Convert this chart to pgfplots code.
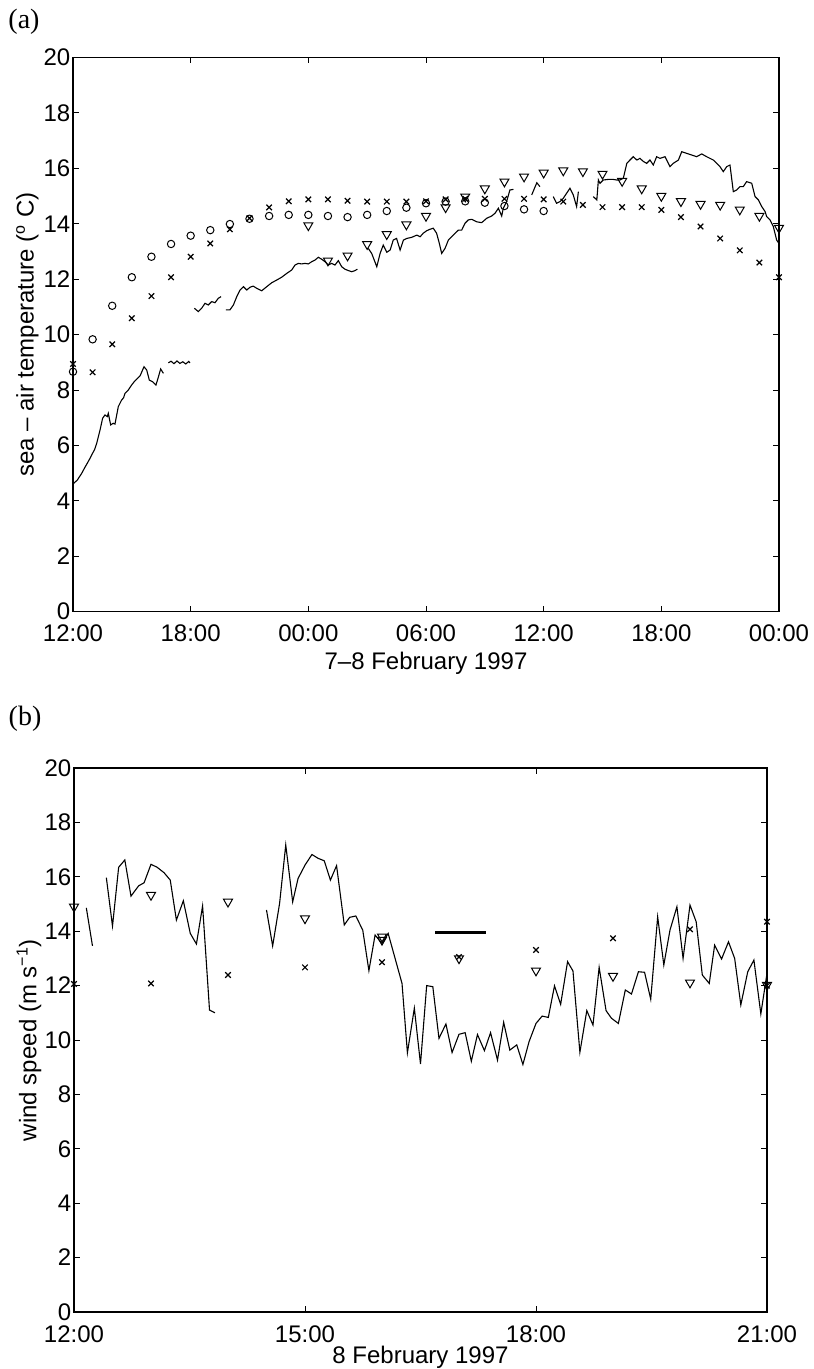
\documentclass[border=0pt]{standalone}
\usepackage{fontspec}
\setmainfont{Liberation Sans}
\newfontfamily\panelfont{Liberation Serif}
\usepackage{pgfplots}
\pgfplotsset{compat=1.18}

\pgfplotsset{
  matlabbox/.style={
    scale only axis,
    axis line style={line width=0.6pt},
    tick style={line width=0.5pt, black},
    major tick length=3pt,
    tick align=inside,
    xtick pos=both, ytick pos=both,
    ymin=0, ymax=20, ytick={0,2,...,20},
    font=\fontsize{12}{14}\selectfont,
    ticklabel style={font=\fontsize{12}{14}\selectfont},
    yticklabel style={inner sep=1.2pt},
    xticklabel style={inner sep=1.5pt, yshift=-5pt},
    /pgf/number format/assume math mode=true,
    clip=false,
    unbounded coords=jump,
  },
  obsline/.style={black, line width=0.55pt, mark=none},
  circ/.style={only marks, mark=o, mark size=1.85pt, mark options={black, line width=0.5pt}},
  cross/.style={only marks, mark=x, mark size=1.95pt, mark options={black, line width=0.6pt}},
  tri/.style={only marks, mark=triangle, mark size=2.6pt, mark options={black, line width=0.5pt, rotate=180}},
}

\begin{document}
\begin{tikzpicture}
\useasboundingbox (0,0) rectangle (406.5pt,-684.5pt);

\node[font=\panelfont\fontsize{14}{16}\selectfont, anchor=center] at (12pt,-10.8pt) {(a)};
\node[font=\panelfont\fontsize{14}{16}\selectfont, anchor=center] at (12.5pt,-359.5pt) {(b)};

% ---------------- (a) sea - air temperature ----------------
\begin{axis}[matlabbox,
  at={(36.5pt,-305.85pt)}, anchor=south west,
  width=353pt, height=277.1pt,
  xmin=0, xmax=36,
  xtick={0,6,...,36},
  xticklabels={12:00,18:00,00:00,06:00,12:00,18:00,00:00},
  xlabel={7–8 February 1997},
  xlabel style={at={(axis description cs:0.5,0)}, anchor=center, yshift=-26pt},
  ylabel={sea – air temperature (\textsuperscript{o} C)},
  ylabel style={at={(axis description cs:-0.0646,0.5)}, anchor=center},
]
\addplot[obsline] coordinates {
(0,4.61) (0.22,4.75) (0.44,4.99) (0.6,5.2) (0.73,5.36) (0.88,5.55) (1.0,5.72)
(1.1,5.85) (1.21,6.08) (1.38,6.56) (1.51,6.98) (1.63,7.1) (1.75,7.04) (1.8,7.16)
(1.92,6.74) (2.05,6.8) (2.14,6.77) (2.31,7.4) (2.48,7.64) (2.58,7.72) (2.65,7.88)
(2.82,8.0) (2.99,8.18) (3.12,8.3) (3.25,8.39) (3.42,8.51) (3.62,8.84) (3.76,8.72)
(3.89,8.36) (4.06,8.3) (4.23,8.18) (4.35,8.46) (4.47,8.76) (4.61,8.6)
(4.7,nan)
(4.86,8.98) (5.0,9.04) (5.15,8.95) (5.3,9.05) (5.45,8.96) (5.6,9.02) (5.75,8.94) (5.9,9.03) (5.97,8.98)
(6.1,nan)
(6.19,10.95) (6.39,10.83) (6.56,10.95) (6.73,11.13) (6.9,11.07) (7.07,11.19) (7.24,11.15) (7.41,11.31) (7.55,11.37)
(7.7,nan)
(7.8,10.89) (8.0,10.89) (8.18,11.07) (8.35,11.37) (8.52,11.61) (8.69,11.73) (8.86,11.61)
(9.03,11.71) (9.19,11.75) (9.37,11.67) (9.62,11.58) (9.88,11.73) (10.13,11.87) (10.39,11.97)
(10.64,12.07) (10.9,12.21) (11.15,12.33) (11.32,12.51) (11.49,12.57) (11.66,12.55) (11.83,12.57)
(12.0,12.55) (12.17,12.63) (12.34,12.69) (12.51,12.79) (12.68,12.72) (12.85,12.63) (13.02,12.51)
(13.19,12.57) (13.36,12.51) (13.53,12.67) (13.7,12.45) (13.87,12.36) (14.04,12.31) (14.21,12.27)
(14.38,12.31) (14.5,12.36)
(14.8,nan)
(15.06,13.11) (15.23,12.93) (15.49,12.45) (15.66,12.93) (15.82,13.23) (16.0,12.97) (16.17,13.05)
(16.33,13.41) (16.5,13.47) (16.68,13.05) (16.85,13.41) (17.02,13.47) (17.27,13.51) (17.53,13.59)
(17.7,13.53) (17.86,13.66) (18.04,13.75) (18.2,13.8) (18.37,13.84) (18.54,13.66) (18.68,13.29)
(18.8,12.93) (18.97,13.11) (19.14,13.41) (19.39,13.59) (19.65,13.77) (19.82,13.77) (19.99,14.02)
(20.16,14.14) (20.33,14.16) (20.59,14.07) (20.84,14.04) (21.1,14.2) (21.35,14.28) (21.52,14.38)
(21.69,14.56) (21.86,14.28) (21.94,14.56) (22.11,14.8) (22.28,15.22) (22.46,15.24)
(22.9,nan)
(23.39,15.04) (23.65,15.48) (23.81,15.34)
(24.2,nan)
(24.49,14.98) (24.66,14.74) (24.83,14.8) (25.0,14.92) (25.17,15.1) (25.34,15.28) (25.51,15.04)
(25.68,14.62) (25.77,15.16)
(26.2,nan)
(26.53,14.98) (26.71,14.86) (26.79,15.58) (26.87,15.46) (27.04,15.58) (27.3,15.6) (27.55,15.6)
(27.72,15.58) (27.89,15.58) (28.06,15.64) (28.24,16.18) (28.4,16.3) (28.57,16.42) (28.75,16.3)
(28.91,16.36) (29.08,16.25) (29.25,16.18) (29.42,16.3) (29.59,16.12) (29.76,16.42) (29.93,16.36)
(30.19,16.42) (30.44,16.06) (30.61,16.18) (30.87,16.3) (31.04,16.6) (31.29,16.54) (31.55,16.48)
(31.8,16.42) (32.06,16.52) (32.31,16.42) (32.48,16.36) (32.65,16.3) (32.82,16.18) (32.99,16.06)
(33.16,15.88) (33.33,16.06) (33.5,16.12) (33.67,15.16) (33.84,15.22) (34.01,15.34) (34.18,15.34)
(34.35,15.52) (34.61,15.46) (34.78,14.98) (34.95,14.86) (35.12,14.62) (35.29,14.44) (35.37,14.26)
(35.54,14.14) (35.71,13.9) (35.88,13.41) (36.0,13.29)
};
\addplot[circ] coordinates {
(0,8.66) (1,9.83) (2,11.04) (3,12.07) (4,12.81) (5,13.27) (6,13.57) (7,13.77) (8,13.99)
(9,14.18) (10,14.28) (11,14.32) (12,14.32) (13,14.28) (14,14.24) (15,14.32) (16,14.46)
(17,14.58) (18,14.74) (19,14.8) (20,14.81) (21,14.76) (22,14.64) (23,14.52) (24,14.46)
};
\addplot[cross] coordinates {
(0,8.94) (1,8.64) (2,9.65) (3,10.59) (4,11.39) (5,12.07) (6,12.81) (7,13.29) (8,13.8)
(9,14.2) (10,14.59) (11,14.81) (12,14.88) (13,14.88) (14,14.83) (15,14.8) (16,14.8)
(17,14.8) (18,14.81) (19,14.88) (20,14.9) (21,14.9) (22,14.9) (23,14.9) (24,14.88)
(25,14.8) (26,14.68) (27,14.6) (28,14.6) (29,14.6) (30,14.5) (31,14.24) (32,13.9)
(33,13.47) (34,13.04) (35,12.6) (36,12.07)
};
\addplot[tri] coordinates {
(12,13.94) (13,12.67) (14,12.85) (15,13.26) (16,13.62) (17,13.97) (18,14.28) (19,14.59)
(20,14.98) (21,15.27) (22,15.52) (23,15.7) (24,15.84) (25,15.92) (26,15.89) (27,15.8)
(28,15.54) (29,15.27) (30,15.0) (31,14.81) (32,14.71) (33,14.68) (34,14.51) (35,14.28)
(36,13.85)
};
\end{axis}

% ---------------- (b) wind speed ----------------
\begin{axis}[matlabbox,
  at={(37pt,-656pt)}, anchor=south west,
  width=346.5pt, height=272pt,
  xmin=0, xmax=9,
  xtick={0,3,6,9},
  xticklabels={12:00,15:00,18:00,21:00},
  xlabel={8 February 1997},
  xlabel style={at={(axis description cs:0.5,0)}, anchor=center, yshift=-22.5pt},
  ylabel={wind speed (m s\textsuperscript{−1})},
  ylabel style={at={(axis description cs:-0.065,0.5)}, anchor=center},
]
\addplot[obsline] coordinates {
(0.16,14.86) (0.24,13.46)
(0.33,nan)
(0.42,15.97) (0.5,14.19) (0.58,16.35) (0.66,16.62) (0.74,15.29) (0.84,15.67) (0.91,15.78)
(1.0,16.46) (1.08,16.35) (1.17,16.15) (1.25,15.88) (1.33,14.41) (1.42,15.12) (1.51,13.92)
(1.59,13.53) (1.67,14.93) (1.76,11.1) (1.83,11.0)
(2.2,nan)
(2.5,14.78) (2.58,13.46) (2.67,15.02) (2.75,17.17) (2.84,15.08) (2.91,15.94) (3.0,16.43)
(3.09,16.82) (3.17,16.68) (3.25,16.59) (3.33,15.88) (3.41,16.41) (3.51,14.23) (3.58,14.51)
(3.66,14.56) (3.75,14.04) (3.83,12.55) (3.91,13.86) (4.0,13.55) (4.08,13.92) (4.17,13.0)
(4.26,12.08) (4.33,9.53) (4.42,11.17) (4.5,9.12) (4.58,12.0) (4.66,11.96) (4.74,10.06)
(4.83,10.59) (4.91,9.54) (5.0,10.21) (5.08,10.27) (5.16,9.22) (5.24,10.2) (5.33,9.61)
(5.41,10.27) (5.5,9.26) (5.58,10.65) (5.66,9.63) (5.75,9.82) (5.83,9.1) (5.91,9.94)
(6.0,10.61) (6.08,10.88) (6.16,10.83) (6.24,11.99) (6.32,11.31) (6.41,12.88) (6.48,12.54)
(6.57,9.55) (6.66,11.08) (6.74,10.55) (6.82,12.67) (6.91,11.08) (6.98,10.8) (7.07,10.61)
(7.16,11.84) (7.24,11.69) (7.33,12.51) (7.41,12.49) (7.49,11.5) (7.58,14.53) (7.66,12.76)
(7.74,14.04) (7.83,14.9) (7.91,13.0) (8.0,14.96) (8.08,14.35) (8.16,12.39) (8.25,12.08)
(8.32,13.49) (8.41,12.98) (8.5,13.61) (8.58,13.0) (8.66,11.29) (8.75,12.51) (8.83,12.94)
(8.92,10.96) (9.0,12.45)
};
\addplot[black, line width=1.6pt, mark=none] coordinates {(4.69,13.95) (5.35,13.95)};
\addplot[tri] coordinates {
(0,14.9) (1,15.33) (2,15.08) (3,14.47) (4,13.68) (4,13.8) (5,13.0) (6,12.55) (7,12.35) (8,12.11) (9,12.02)
};
\addplot[cross] coordinates {
(0,12.06) (1,12.08) (2,12.39) (3,12.67) (4,12.86) (5,13.05) (6,13.31) (7,13.74) (8,14.07) (9,14.35) (9,12.0)
};
\end{axis}
\end{tikzpicture}
\end{document}
